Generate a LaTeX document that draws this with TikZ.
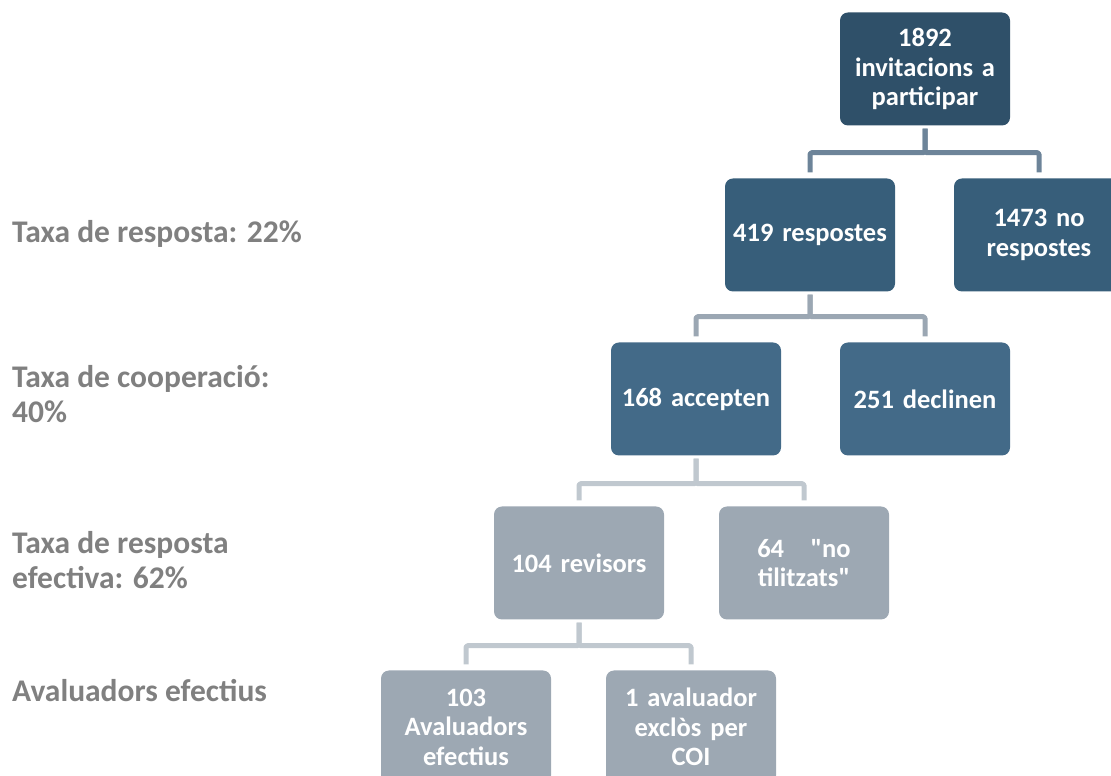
\documentclass[tikz,border=0pt]{standalone}
\usepackage{fontspec}
\setmainfont{Carlito}
\usepackage{xcolor}
\usetikzlibrary{positioning}
\definecolor{fillone}{HTML}{2F5069}
\definecolor{filltwo}{HTML}{375E7A}
\definecolor{fillthree}{HTML}{436A88}
\definecolor{fillgrey}{HTML}{9DA8B3}
\definecolor{linkone}{HTML}{6D8499}
\definecolor{linktwo}{HTML}{9BA7B3}
\definecolor{linkthree}{HTML}{C0C8CF}
\definecolor{labelgrey}{HTML}{808080}
\tikzset{
  box/.style={rounded corners=8pt,minimum width=170pt,minimum height=113pt,
    text width=165pt,align=center,inner sep=0pt,text=white,
    font=\fontsize{26.5}{29.5}\selectfont\bfseries},
  conn/.style={line width=5pt,rounded corners=1.5pt},
  rate/.style={anchor=base west,align=left,inner sep=0pt,text=labelgrey,
    font=\fontsize{31.5}{35}\selectfont\bfseries}
}

\begin{document}
\begin{tikzpicture}[x=1pt,y=1pt,line cap=butt,line join=round]
\clip(0,0) rectangle (1111,776);
% boxes of the tree
\node [box,fill=fillone] (invit) at (925,707) {1892\\invitacions a\\participar};
\node [box,fill=filltwo] (resp) at (810,541) {419 respostes};
\node [box,fill=filltwo] (noresp) at (1039,541) {1473 no\\respostes};
\node [box,fill=fillthree] (accept) at (696,377) {168 accepten};
\node [box,fill=fillthree] (declin) at (925,377) {251 declinen};
\node [box,fill=fillgrey] (revis) at (579,213) {104 revisors};
\node [box,fill=fillgrey] (noutil) at (804,213) {64\ \ \ \textquotedbl no\\tilitzats\textquotedbl};
\node [box,fill=fillgrey] (aval) at (466,49) {103\\Avaluadors\\efectius};
\node [box,fill=fillgrey] (excl) at (691,49) {1 avaluador\\exclòs per\\COI};
% connectors
\draw [conn,linkone] ([yshift=-3pt]invit.south) -- ++(0,-24) -| ([yshift=6pt]resp.north);
\draw [conn,linkone] ([yshift=-3pt]invit.south) -- ++(0,-24) -| ([yshift=6pt]noresp.north);
\draw [conn,linktwo] ([yshift=-3pt]resp.south) -- ++(0,-22) -| ([yshift=6pt]accept.north);
\draw [conn,linktwo] ([yshift=-3pt]resp.south) -- ++(0,-22) -| ([yshift=6pt]declin.north);
\draw [conn,linkthree] ([yshift=-3pt]accept.south) -- ++(0,-25) -| ([yshift=6pt]revis.north);
\draw [conn,linkthree] ([yshift=-3pt]accept.south) -- ++(0,-25) -| ([yshift=6pt]noutil.north);
\draw [conn,linkthree] ([yshift=-3pt]revis.south) -- ++(0,-23) -| ([yshift=6pt]aval.north);
\draw [conn,linkthree] ([yshift=-3pt]revis.south) -- ++(0,-23) -| ([yshift=6pt]excl.north);
% rates on the left
\node [rate] (ratea) at (12,533) {Taxa de resposta: 22\%};
\node [rate] (rateb) at (12,353) {Taxa de cooperació:\\40\%};
\node [rate] (ratec) at (12,187) {Taxa de resposta\\efectiva: 62\%};
\node [rate] (rated) at (12,74) {Avaluadors efectius};
\end{tikzpicture}
\end{document}
